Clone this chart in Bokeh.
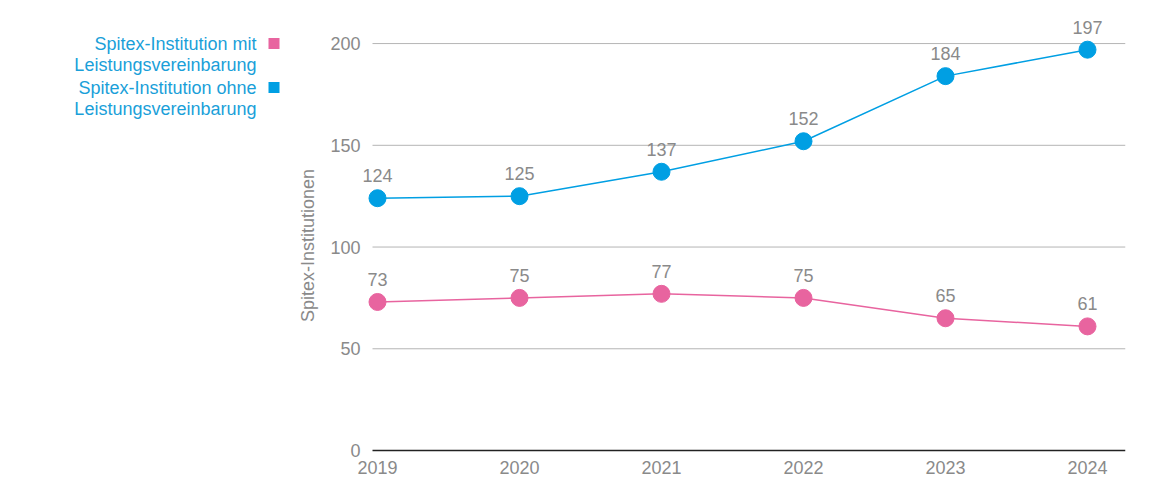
import math
from bokeh.plotting import figure
from bokeh.models import ColumnDataSource, Label, BoxAnnotation, Range1d, FixedTicker
from bokeh.core.properties import value
from bokeh.embed import file_html
from bokeh.resources import INLINE

years = [2019, 2020, 2021, 2022, 2023, 2024]
mit = [73, 75, 77, 75, 65, 61]
ohne = [124, 125, 137, 152, 184, 197]
y_ticks = [0, 50, 100, 150, 200]
y_title = "Spitex-Institutionen"
legend_entries = [("Spitex-Institution mit", "Leistungsvereinbarung"),
                  ("Spitex-Institution ohne", "Leistungsvereinbarung")]

PINK = "#E8649F"
BLUE = "#009FE3"
GRAY = "#8a8a8a"
FONT = "Liberation Sans"
FS = "18px"

PX_PER_YEAR = 142.0
PX_PER_UNIT = 2.035
X_START = 2019 - 377 / PX_PER_YEAR
X_GRID0 = 2019 - 5 / PX_PER_YEAR
X_END = 2024 + 38 / PX_PER_YEAR
Y_START = -10 / PX_PER_UNIT
Y_END = 213.8

p = figure(width=1152, height=499, output_backend="svg", toolbar_location=None,
           x_range=Range1d(X_START, X_END), y_range=Range1d(Y_START, Y_END),
           y_axis_location=None,
           min_border_left=0, min_border_right=27, min_border_top=15, min_border_bottom=39)
p.outline_line_color = None
p.xgrid.grid_line_color = None
p.ygrid.grid_line_color = None

p.xaxis.ticker = FixedTicker(ticks=years)
p.xaxis.axis_line_color = None
p.xaxis.major_tick_line_color = None
p.xaxis.minor_tick_line_color = None
p.xaxis.major_label_standoff = -6
p.xaxis.major_label_text_font = FONT
p.xaxis.major_label_text_font_size = FS
p.xaxis.major_label_text_color = GRAY

# horizontal grid lines and baseline
grid_vals = [t for t in y_ticks if t > 0]
p.segment(x0=[X_GRID0] * len(grid_vals), x1=[X_END] * len(grid_vals), y0=grid_vals, y1=grid_vals,
          line_color="#b5b5b5", line_width=1)
p.segment(x0=[X_GRID0], x1=[X_END], y0=[0], y1=[0], line_color="#222222", line_width=1.5)

# y tick labels
p.text(x=[X_GRID0] * len(y_ticks), y=y_ticks, text=[str(t) for t in y_ticks],
       x_offset=-12, text_align="right", text_baseline="middle",
       text_font=value(FONT), text_font_size=FS, text_color=GRAY)

FRAME_BOTTOM = 460

# y axis title
p.add_layout(Label(x=307, y=FRAME_BOTTOM - 245, x_units="screen", y_units="screen", text=y_title,
                   angle=math.pi / 2, text_align="center", text_baseline="middle",
                   text_font=FONT, text_font_size=FS, text_color=GRAY))

for vals, col in ((mit, PINK), (ohne, BLUE)):
    src = ColumnDataSource(dict(x=years, y=vals, t=[str(v) for v in vals]))
    p.line("x", "y", source=src, line_color=col, line_width=1.5)
    p.scatter("x", "y", source=src, size=17, fill_color=col, line_color=col)
    p.text("x", "y", text="t", source=src, y_offset=-16, text_align="center",
           text_baseline="bottom", text_font=value(FONT), text_font_size=FS,
           text_color=GRAY)

# Legend (text right-aligned, square to the right)
line_tops = [43, 64, 87, 108]
colors = [PINK, BLUE]
for i, (l1, l2) in enumerate(legend_entries):
    for j, txt in enumerate((l1, l2)):
        ys = FRAME_BOTTOM - line_tops[2 * i + j]
        p.add_layout(Label(x=256, y=ys, x_units="screen", y_units="screen", text=txt,
                           text_align="right", text_baseline="middle", text_font=FONT,
                           text_font_size=FS, text_color="#1A9FD9"))
    ys = FRAME_BOTTOM - line_tops[2 * i]
    p.add_layout(BoxAnnotation(left=268, right=279, bottom=ys - 5.5, top=ys + 5.5,
                               left_units="screen", right_units="screen",
                               bottom_units="screen", top_units="screen",
                               fill_color=colors[i], fill_alpha=1, line_color=None))

open("out.html", "w").write(file_html(p, INLINE))
